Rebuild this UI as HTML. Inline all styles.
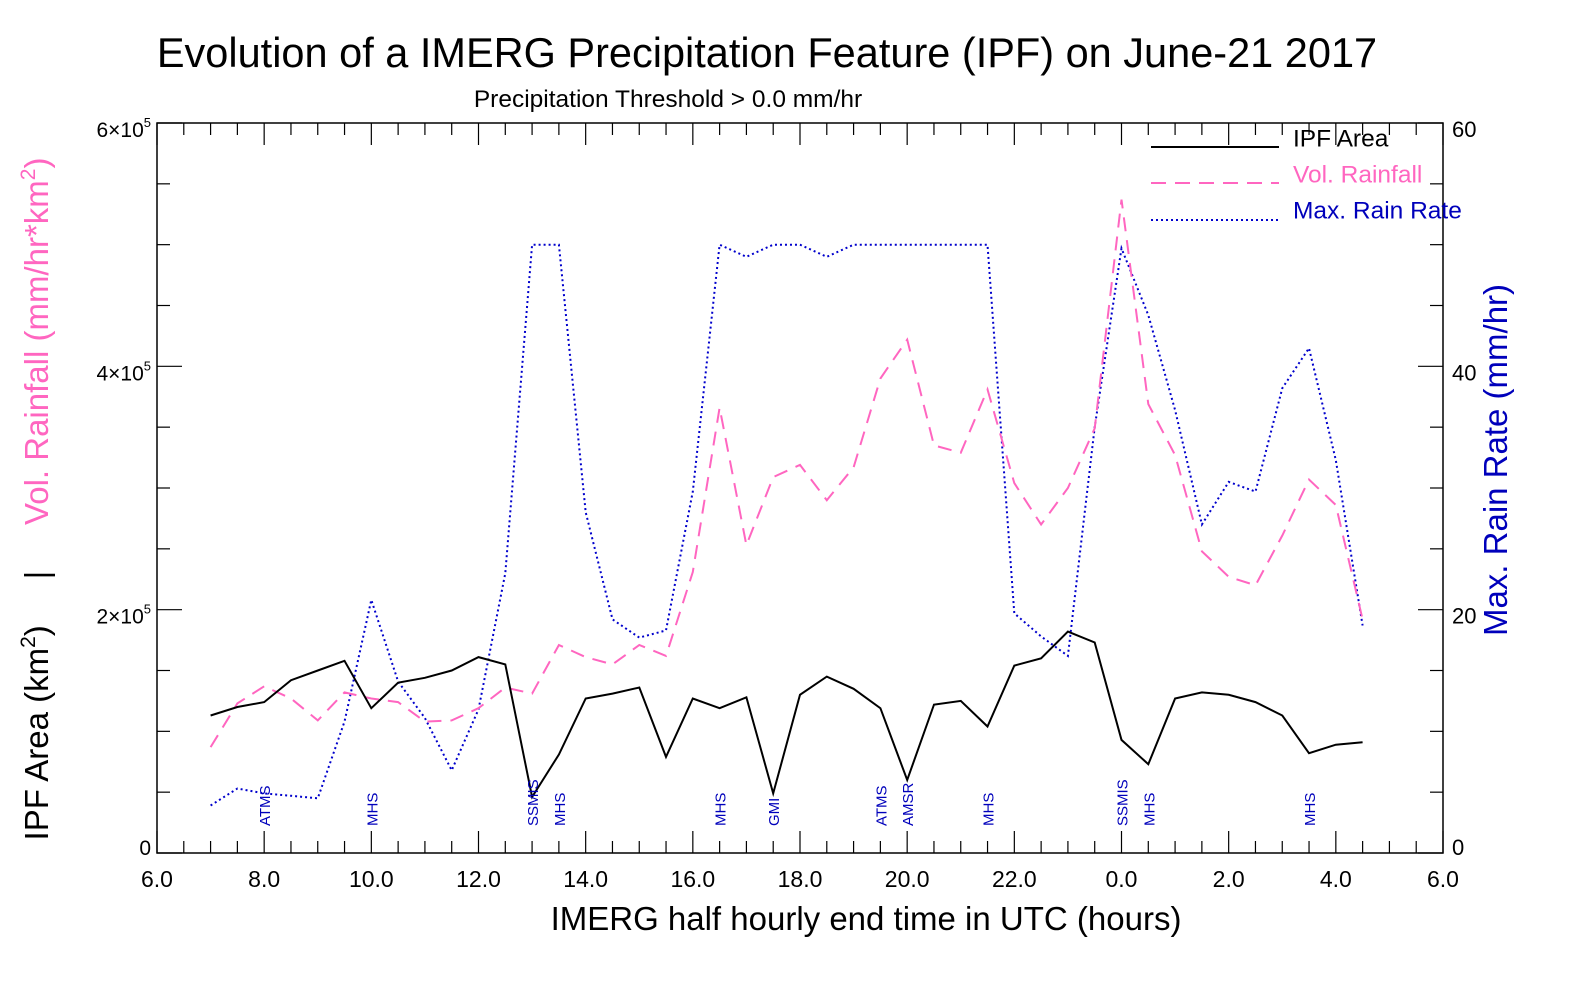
<!DOCTYPE html>
<html><head><meta charset="utf-8"><style>
html,body{margin:0;padding:0;background:#fff;}
svg{display:block;font-family:"Liberation Sans",sans-serif;}
</style></head><body>
<svg id="chart" width="1574" height="983" viewBox="0 0 1574 983">
<text x="767" y="67" font-size="41.5" text-anchor="middle">Evolution of a IMERG Precipitation Feature (IPF) on June-21 2017</text>
<text x="668" y="107" font-size="24.5" text-anchor="middle">Precipitation Threshold &gt; 0.0 mm/hr</text>
<text x="866" y="930" font-size="33" text-anchor="middle">IMERG half hourly end time in UTC (hours)</text>
<text transform="translate(48,499) rotate(-90)" font-size="33" text-anchor="middle"><tspan fill="#000">IPF Area (km</tspan><tspan fill="#000" font-size="21" dy="-13">2</tspan><tspan fill="#000" dy="13" xml:space="preserve">)     |     </tspan><tspan fill="#ff66c0">Vol. Rainfall (mm/hr*km</tspan><tspan fill="#ff66c0" font-size="21" dy="-13">2</tspan><tspan fill="#ff66c0" dy="13">)</tspan></text>
<text transform="translate(1507,460) rotate(-90)" font-size="33" fill="#0000bb" text-anchor="middle">Max. Rain Rate (mm/hr)</text>
<g id="axes"></g>
<g id="series"></g>
<g id="sensors"></g>
<g>
<line x1="1151" y1="147" x2="1279" y2="147" stroke="#000" stroke-width="2"/>
<text x="1293" y="140" font-size="24.5" fill="#000" dominant-baseline="middle">IPF Area</text>
<line x1="1151" y1="183" x2="1279" y2="183" stroke="#ff66c0" stroke-width="2" stroke-dasharray="15,9"/>
<text x="1293" y="176" font-size="24.5" fill="#ff66c0" dominant-baseline="middle">Vol. Rainfall</text>
<line x1="1151" y1="220" x2="1279" y2="220" stroke="#0000cc" stroke-width="2" stroke-dasharray="2,3"/>
<text x="1293" y="212" font-size="24.5" fill="#0000bb" dominant-baseline="middle">Max. Rain Rate</text>
</g>
</svg>
<script>
// hours since 6.0 UTC on the x-axis (7.0 ... 28.5)
const times = [7,7.5,8,8.5,9,9.5,10,10.5,11,11.5,12,12.5,13,13.5,14,14.5,15,15.5,16,16.5,17,17.5,18,18.5,19,19.5,20,20.5,21,21.5,22,22.5,23,23.5,24,24.5,25,25.5,26,26.5,27,27.5,28,28.5];
// IPF area in units of 1e5 km2
const ipfArea = [1.13,1.20,1.24,1.42,1.50,1.58,1.19,1.40,1.44,1.50,1.61,1.55,0.46,0.81,1.27,1.31,1.36,0.79,1.27,1.19,1.28,0.49,1.30,1.45,1.35,1.19,0.60,1.22,1.25,1.04,1.54,1.60,1.82,1.73,0.93,0.73,1.27,1.32,1.30,1.24,1.13,0.82,0.89,0.91];
// volumetric rainfall in units of 1e5 mm/hr*km2
const volRain = [0.87,1.23,1.37,1.27,1.09,1.32,1.27,1.24,1.08,1.09,1.19,1.36,1.31,1.71,1.61,1.55,1.71,1.62,2.31,3.66,2.53,3.09,3.19,2.90,3.17,3.90,4.22,3.35,3.29,3.81,3.04,2.70,3.00,3.49,5.37,3.69,3.27,2.48,2.27,2.20,2.61,3.07,2.86,1.92];
// max rain rate mm/hr
const maxRate = [3.9,5.3,4.9,4.7,4.5,10.8,20.8,14.1,11.1,6.8,11.8,23.0,50,50,28,19.2,17.7,18.3,29.7,50,49,50,50,49,50,50,50,50,50,50,19.7,17.8,16.2,35,49.7,44.2,36.4,27,30.5,29.7,38.2,41.5,32.3,18.7];
const sensorNames = ["ATMS","MHS","SSMIS","MHS","MHS","GMI","ATMS","AMSR","MHS","SSMIS","MHS","MHS"];
const sensorTimes = [8,10,13,13.5,16.5,17.5,19.5,20,21.5,24,24.5,27.5];
const xTickLabels = ["6.0","8.0","10.0","12.0","14.0","16.0","18.0","20.0","22.0","0.0","2.0","4.0","6.0"];
const leftTickLabels = ["0","2×10","4×10","6×10"];
const rightTickLabels = ["0","20","40","60"];

const NS="http://www.w3.org/2000/svg";
const X0=157,X1=1443,Y0=853,Y1=123;
const xs=t=>X0+(t-6)/24*(X1-X0);
const yl=v=>Y0-v/6*(Y0-Y1);
const yr=v=>Y0-v/60*(Y0-Y1);
function mk(tag,parent){const e=document.createElementNS(NS,tag);parent.appendChild(e);return e;}
const axes=document.getElementById('axes');
const frame=mk('rect',axes);


frame.setAttribute('x',X0);frame.setAttribute('y',Y1);frame.setAttribute('width',X1-X0);frame.setAttribute('height',Y0-Y1);
frame.setAttribute('fill','none');frame.setAttribute('stroke','#000');frame.setAttribute('stroke-width','1.5');
for(let i=0;i<=48;i++){
  const t=6+i*0.5,x=xs(t),major=(i%4===0),len=major?22:12;
  [[Y0,Y0-len],[Y1,Y1+len]].forEach(p=>{
    const l=mk('line',axes);
    
    
    l.setAttribute('x1',x);l.setAttribute('x2',x);l.setAttribute('y1',p[0]);l.setAttribute('y2',p[1]);l.setAttribute('stroke','#000');l.setAttribute('stroke-width','1.2');
  });
}
xTickLabels.forEach((s,i)=>{
  const tx=mk('text',axes);
  
  
  tx.setAttribute('x',xs(6+i*2));tx.setAttribute('y',887);tx.setAttribute('font-size','23');tx.setAttribute('text-anchor','middle');tx.textContent=s;
});
for(let i=0;i<=12;i++){
  const v=i*0.5,y=yl(v),major=(i%4===0),len=major?25:13;
  [[X0,X0+len],[X1,X1-len]].forEach(p=>{
    const l=mk('line',axes);
    
    
    l.setAttribute('x1',p[0]);l.setAttribute('x2',p[1]);l.setAttribute('y1',y);l.setAttribute('y2',y);l.setAttribute('stroke','#000');l.setAttribute('stroke-width','1.2');
  });
}
leftTickLabels.forEach((s,i)=>{
  const tx=mk('text',axes);
  
  
  tx.setAttribute('x',151);tx.setAttribute('y',yl(i*2)+8+(i===0?-6:6));tx.setAttribute('font-size','21');tx.setAttribute('text-anchor','end');
  tx.textContent=s;
  if(i>0){const sp=mk('tspan',tx);sp.setAttribute('font-size','13');sp.setAttribute('dy','-10');sp.textContent='5';}
});
rightTickLabels.forEach((s,i)=>{
  const tx=mk('text',axes);
  
  
  tx.setAttribute('x',1452);tx.setAttribute('y',yr(i*20)+(i===0?2:14));tx.setAttribute('font-size','22');tx.textContent=s;
});
const ser=document.getElementById('series');
function line(vals,yf,name,color,dash){
  const p=mk('polyline',ser);
  
  
  p.setAttribute('points',vals.map((v,i)=>xs(times[i]).toFixed(1)+','+yf(v).toFixed(1)).join(' '));
  p.setAttribute('fill','none');p.setAttribute('stroke',color);p.setAttribute('stroke-width','2');
  if(dash)p.setAttribute('stroke-dasharray',dash);
}
line(maxRate,yr,'max-rain-rate-line','#0000cc','2,3');
line(volRain,yl,'vol-rainfall-line','#ff66c0','14,9');
line(ipfArea,yl,'ipf-area-line','#000',null);
const sg=document.getElementById('sensors');
sensorNames.forEach((s,i)=>{
  const tx=mk('text',sg);
  
  
  const x=xs(sensorTimes[i])+6;
  tx.setAttribute('transform','translate('+x+',826) rotate(-90)');
  tx.setAttribute('font-size','15');tx.setAttribute('fill','#0000bb');tx.textContent=s;
});
</script>
</body></html>
